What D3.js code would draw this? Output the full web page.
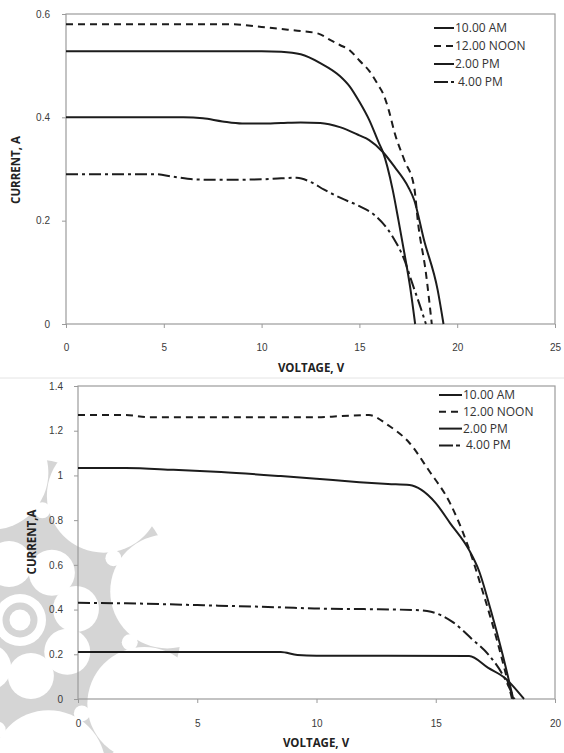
<!DOCTYPE html>
<html>
<head>
<meta charset="utf-8">
<script src="https://cdn.jsdelivr.net/npm/d3@7"></script>
<style>
  html, body { margin: 0; padding: 0; background: #fff; }
  svg { display: block; font-family: "Open Sans", "DejaVu Sans", sans-serif; }
  .tick text { fill: #3a3a3a; font-size: 10px; }
  .tick line { stroke: #9a9a9a; }
  .title { fill: #222; font-weight: bold; font-size: 11.5px; }
  .legend text { fill: #333; font-size: 12px; }
</style>
</head>
<body>
<script>
// ---- Panel A: module I–V curves (top) ----
const seriesNames = ["10.00 AM", "12.00 NOON", "2.00 PM", "4.00 PM"];

const topV_10am = [0, 2, 4, 6, 8, 10, 11, 12, 13, 14, 14.5, 15, 15.5, 16, 16.2, 16.7, 17, 17.3, 17.6, 17.85];
const topI_10am = [0.528, 0.528, 0.528, 0.528, 0.528, 0.528, 0.527, 0.522, 0.505, 0.48, 0.46, 0.43, 0.395, 0.35, 0.333, 0.26, 0.2, 0.137, 0.07, 0];

const topV_noon = [0, 3, 6, 8.5, 10, 11, 12, 12.9, 13.5, 14, 14.5, 15, 15.5, 16, 16.2, 16.5, 16.8, 17.3, 17.8, 18.0, 18.4, 18.7];
const topI_noon = [0.58, 0.58, 0.58, 0.58, 0.575, 0.571, 0.567, 0.562, 0.55, 0.54, 0.53, 0.51, 0.49, 0.46, 0.447, 0.414, 0.37, 0.317, 0.265, 0.195, 0.099, 0];

const topV_2pm = [0, 3, 6, 7, 8, 9, 10, 11, 12, 13, 14, 15, 15.5, 16.2, 16.8, 17.5, 17.8, 18.3, 19.0, 19.3];
const topI_2pm = [0.40, 0.40, 0.40, 0.398, 0.392, 0.388, 0.388, 0.389, 0.39, 0.389, 0.381, 0.365, 0.356, 0.333, 0.304, 0.265, 0.24, 0.163, 0.066, 0];

const topV_4pm = [0, 2, 4.5, 5.5, 6.5, 8, 10, 11, 11.8, 12.5, 13.2, 14.1, 15, 15.8, 16.7, 17.3, 17.7, 18.1, 18.4];
const topI_4pm = [0.29, 0.29, 0.29, 0.285, 0.28, 0.279, 0.28, 0.282, 0.283, 0.275, 0.26, 0.243, 0.228, 0.21, 0.169, 0.124, 0.079, 0.035, 0];

const topXTicks = [0, 5, 10, 15, 20, 25];
const topYTicks = [0, 0.2, 0.4, 0.6];
const topYLabels = ["0", "0.2", "0.4", "0.6"];

// ---- Panel B: module I–V curves (bottom) ----
const botV_10am = [0, 2, 4, 6, 8.5, 10, 11.8, 13, 13.9, 14.4, 15.0, 15.6, 16.4, 16.8, 17.3, 17.8, 18.25];
const botI_10am = [1.033, 1.033, 1.025, 1.015, 0.997, 0.985, 0.97, 0.962, 0.957, 0.935, 0.876, 0.787, 0.666, 0.577, 0.40, 0.20, 0];

const botV_noon = [0, 2, 3, 5, 8, 10, 11, 12.2, 13.0, 13.9, 14.7, 15.6, 16.3, 17.0, 17.6, 18.2];
const botI_noon = [1.27, 1.27, 1.26, 1.26, 1.26, 1.26, 1.265, 1.27, 1.225, 1.145, 1.024, 0.876, 0.70, 0.47, 0.25, 0];

const botV_2pm = [0, 4, 8.5, 9.2, 10, 13, 16.4, 17.2, 17.9, 18.7];
const botI_2pm = [0.21, 0.21, 0.21, 0.197, 0.194, 0.194, 0.192, 0.139, 0.094, 0];

const botV_4pm = [0, 2, 5, 8.5, 9.9, 12, 14.1, 14.8, 15.7, 16.5, 17.2, 17.8, 18.3];
const botI_4pm = [0.43, 0.428, 0.42, 0.41, 0.405, 0.402, 0.398, 0.39, 0.345, 0.27, 0.2, 0.11, 0];

const botXTicks = [0, 5, 10, 15, 20];
const botYTicks = [0, 0.2, 0.4, 0.6, 0.8, 1, 1.2, 1.4];
const botYLabels = ["0", "0.2", "0.4", "0.6", "0.8", "1", "1.2", "1.4"];

const W = 564, H = 753;
const svg = d3.select("body").append("svg").attr("width", W).attr("height", H);
svg.append("rect").attr("width", W).attr("height", H).attr("fill", "#fff");

// faint rosette emblem printed behind the lower panel:
// a grey disc with a scalloped rim and pierced openings
const emblem = svg.append("g");
const ec = [20, 620], rad = Math.PI / 180, grey = "#d5d5d5";
const at = (r, a) => [ec[0] + r * Math.cos(a * rad), ec[1] + r * Math.sin(a * rad)];
const hole = (c, r) => emblem.append("circle").attr("cx", c[0]).attr("cy", c[1]).attr("r", r).attr("fill", "#fff");
emblem.append("circle").attr("cx", ec[0]).attr("cy", ec[1]).attr("r", 162).attr("fill", grey);
d3.range(8).forEach(k => {
  const a = -11 + 45 * k;
  hole(at(150, a), 57);
  hole(at(57, a), 23);
  hole(at(112, a + 22.5), 8);
});
hole(ec, 26);
emblem.append("circle").attr("cx", ec[0]).attr("cy", ec[1]).attr("r", 14)
  .attr("fill", "none").attr("stroke", grey).attr("stroke-width", 7);

// faint divider between the two panels
svg.append("line").attr("x1", 0).attr("x2", W).attr("y1", 378).attr("y2", 378)
  .attr("stroke", "#e4e4e4").attr("stroke-width", 1);

const styles = [
  { dash: null },
  { dash: "7,5" },
  { dash: null },
  { dash: "12,4,3,4" }
];

function panel(cfg) {
  const x = d3.scaleLinear().domain(cfg.xDomain).range([cfg.left, cfg.right]);
  const y = d3.scaleLinear().domain(cfg.yDomain).range([cfg.bottom, cfg.top]);
  const g = svg.append("g");

  g.append("rect")
    .attr("x", cfg.left).attr("y", cfg.top)
    .attr("width", cfg.right - cfg.left).attr("height", cfg.bottom - cfg.top)
    .attr("fill", "none").attr("stroke", "#9c9c9c").attr("stroke-width", 1.2);

  const xa = g.append("g").attr("transform", `translate(0,${cfg.bottom})`)
    .call(d3.axisBottom(x).tickValues(cfg.xTicks).tickSize(4).tickPadding(cfg.xPad).tickFormat(d3.format("d")));
  xa.select(".domain").remove();

  const ya = g.append("g").attr("transform", `translate(${cfg.left},0)`)
    .call(d3.axisLeft(y).tickValues(cfg.yTicks).tickSize(4).tickPadding(cfg.yPad)
      .tickFormat((d, i) => cfg.yLabels[i]));
  ya.select(".domain").remove();
  g.selectAll(".tick text").attr("font-family", null);

  const line = d3.line().x(d => x(d[0])).y(d => y(d[1])).curve(d3.curveMonotoneX);
  cfg.series.forEach((s, k) => {
    const pts = s.v.map((v, i) => [v, s.i[i]]);
    g.append("path").datum(pts)
      .attr("d", line)
      .attr("fill", "none")
      .attr("stroke", "#1c1c1c")
      .attr("stroke-width", 2)
      .attr("stroke-dasharray", styles[k].dash);
  });

  g.append("text").attr("class", "title")
    .attr("x", cfg.xTitle[0]).attr("y", cfg.xTitle[1])
    .attr("text-anchor", "middle").text(cfg.xLabel);
  g.append("text").attr("class", "title")
    .attr("transform", `translate(${cfg.yTitle[0]},${cfg.yTitle[1]}) rotate(-90)`)
    .attr("text-anchor", "middle").text(cfg.yLabel);

  const lg = g.append("g").attr("class", "legend");
  seriesNames.forEach((name, k) => {
    const yy = cfg.legY + k * cfg.legStep;
    lg.append("line")
      .attr("x1", cfg.legX).attr("x2", cfg.legX + cfg.legLen)
      .attr("y1", yy).attr("y2", yy)
      .attr("stroke", "#1c1c1c").attr("stroke-width", 2)
      .attr("stroke-dasharray", k === 3 ? "14,3,4,3" : styles[k].dash);
    lg.append("text")
      .attr("x", cfg.legX + cfg.legLen + (k === 3 ? 4 : 1)).attr("y", yy + 4)
      .text(name);
  });
}

panel({
  xDomain: [0, 25], yDomain: [0, 0.6],
  left: 66, right: 555, top: 14, bottom: 324,
  xTicks: topXTicks, yTicks: topYTicks, yLabels: topYLabels,
  xPad: 16, yPad: 12,
  xLabel: "VOLTAGE, V", yLabel: "CURRENT, A",
  xTitle: [311, 372], yTitle: [20, 170],
  legX: 434, legY: 28, legStep: 18, legLen: 20,
  series: [
    { v: topV_10am, i: topI_10am },
    { v: topV_noon, i: topI_noon },
    { v: topV_2pm, i: topI_2pm },
    { v: topV_4pm, i: topI_4pm }
  ]
});

panel({
  xDomain: [0, 20], yDomain: [0, 1.4],
  left: 78, right: 555, top: 386, bottom: 699,
  xTicks: botXTicks, yTicks: botYTicks, yLabels: botYLabels,
  xPad: 17, yPad: 11,
  xLabel: "VOLTAGE, V", yLabel: "CURRENT,A",
  xTitle: [316, 747], yTitle: [36, 542],
  legX: 439, legY: 395, legStep: 16.8, legLen: 23,
  series: [
    { v: botV_10am, i: botI_10am },
    { v: botV_noon, i: botI_noon },
    { v: botV_2pm, i: botI_2pm },
    { v: botV_4pm, i: botI_4pm }
  ]
});
</script>
</body>
</html>
